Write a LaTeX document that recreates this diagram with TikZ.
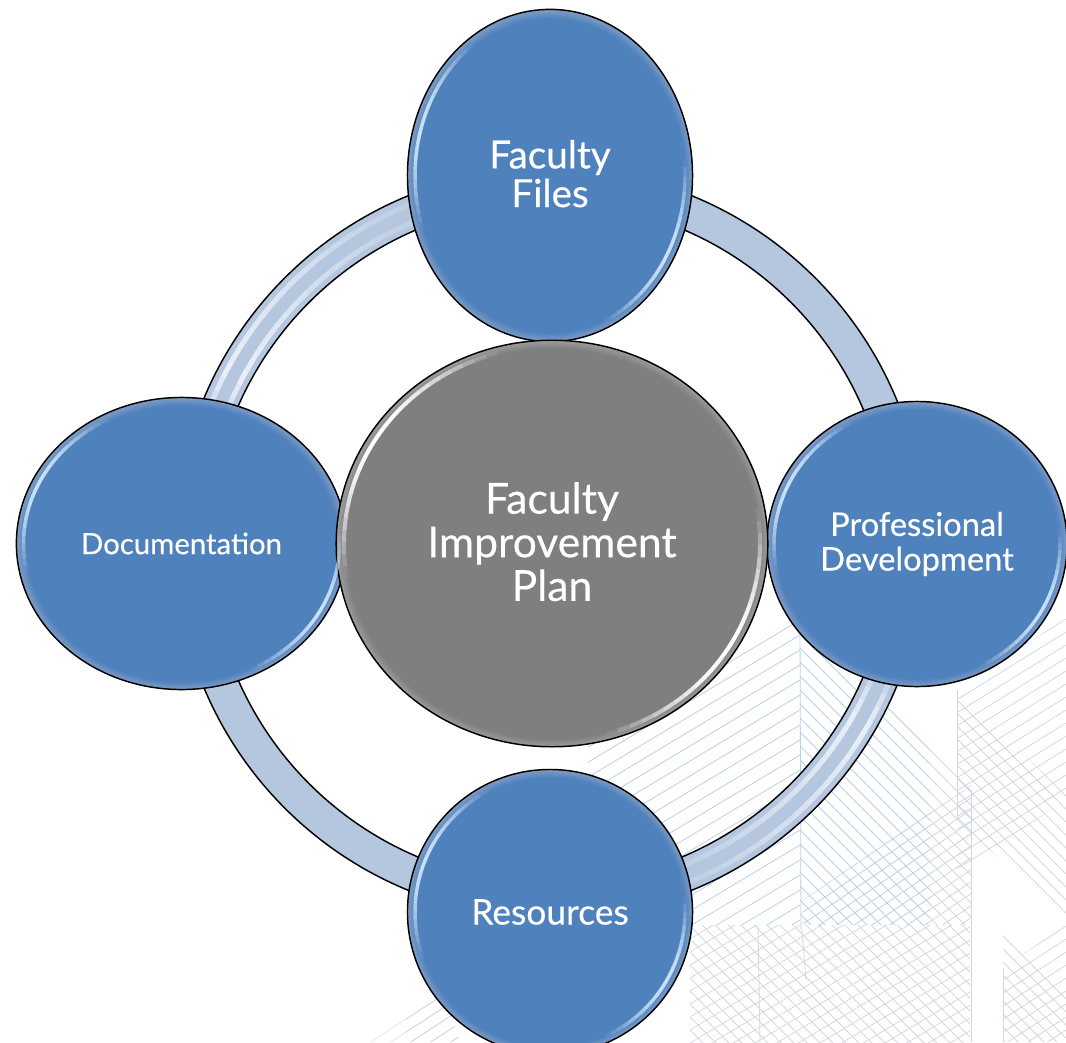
\documentclass[tikz,border=0pt]{standalone}
\usepackage{fontspec}
\setmainfont{Lato}[FakeBold=0.35]
\usetikzlibrary{shapes.geometric}
\definecolor{orbblue}{HTML}{4F81BD}
\definecolor{orbrim}{HTML}{7F9CC4}
\definecolor{orbgrey}{HTML}{7F7F7F}
\definecolor{orbgreyrim}{HTML}{9C9C9C}
\definecolor{ringfill}{HTML}{B5C6DF}
\definecolor{ringlight}{HTML}{F0F5FC}
\definecolor{bluelight}{HTML}{C8E2F8}
\definecolor{hatchblue}{HTML}{BAD0EA}
\definecolor{hatchgrey}{HTML}{D2D7E0}
\definecolor{hatchpale}{HTML}{E4E8EF}
\pgfdeclareradialshading{orbshade}{\pgfpoint{0bp}{0bp}}{color(0bp)=(orbblue); color(23.6bp)=(orbblue); color(25bp)=(orbrim); color(50bp)=(orbrim)}
\pgfdeclareradialshading{greyshade}{\pgfpoint{0bp}{0bp}}{color(0bp)=(orbgrey); color(24bp)=(orbgrey); color(25bp)=(orbgreyrim); color(50bp)=(orbgreyrim)}
\tikzset{
  orb/.style={ellipse,draw=black,line width=1.1pt,shading=orbshade,inner sep=0pt,text=white,align=center},
  hub/.style={ellipse,draw=black,line width=1.1pt,shading=greyshade,inner sep=0pt,text=white,align=center},
  hatchline/.style={line width=0.6pt}
}
% polygon, colour, slope, first, second, last
\newcommand\hatchzone[6]{%
  \begin{scope}
    \clip #1;
    \foreach \c in {#4,#5,...,#6}{\draw[hatchline,#2] (0,\c) -- (1066,{\c+(#3)*1066});}
  \end{scope}}
% cx cy rx ry from to width colour: fades in and out along the arc
\newcommand\rimarc[8]{%
  \foreach \k in {0,...,23}{%
    \pgfmathsetmacro\aa{#5+(#6-#5)*\k/24}%
    \pgfmathsetmacro\ab{#5+(#6-#5)*(\k+1.02)/24}%
    \pgfmathsetmacro\op{sin(180*(\k+.5)/24)}%
    \draw[line width=#7,draw=#8,opacity=\op] plot[domain=\aa:\ab,samples=3] ({#1+#3*cos(\x)},{#2-#4*sin(\x)});
  }}
% ring stripe: strongest at "from", gone at "to"
\newcommand\ringarc[6]{%
  \foreach \k in {0,...,23}{%
    \pgfmathsetmacro\aa{#2+(#3-#2)*\k/24}%
    \pgfmathsetmacro\ab{#2+(#3-#2)*(\k+1.02)/24}%
    \pgfmathsetmacro\op{(1-\k/24)*min(1,(\k+2)/5)}%
    \draw[line width=#4,draw=#5,opacity=\op] plot[domain=\aa:\ab,samples=3] ({#6+#1*cos(\x)},{543-#1*sin(\x)});
  }}
\begin{document}
\begin{tikzpicture}[x=0.75pt,y=-0.75pt]
\useasboundingbox (0,0) rectangle (1066,1042);
% --- background hatching
\hatchzone{(588,745) -- (800,618) -- (800,925) -- (588,925) -- cycle}{hatchblue}{-0.6}{1100}{1115}{1400}
\hatchzone{(800,625) -- (930,745) -- (930,925) -- (800,925) -- cycle}{hatchblue}{1}{-180}{-166}{130}
\hatchzone{(803,900) -- (930,813) -- (930,925) -- (803,925) -- cycle}{hatchblue}{-0.68}{1446}{1458}{1560}
\hatchzone{(690,925) -- (970,925) -- (970,1042) -- (690,1042) -- cycle}{hatchgrey}{-0.6}{1340}{1353}{1630}
\hatchzone{(690,925) -- (970,925) -- (970,1042) -- (690,1042) -- cycle}{hatchgrey}{1}{-50}{-37}{360}
\hatchzone{(930,745) -- (972,790) -- (972,925) -- (930,925) -- cycle}{hatchgrey}{1}{-180}{-166}{130}
\hatchzone{(930,813) -- (972,785) -- (972,925) -- (930,925) -- cycle}{hatchgrey}{-0.68}{1446}{1458}{1660}
\hatchzone{(957,690) -- (1066,618) -- (1066,800) -- (957,872) -- cycle}{hatchgrey}{-0.62}{1280}{1293}{1470}
\hatchzone{(957,690) -- (1066,795) -- (1066,918) -- (973,835) -- (957,820) -- cycle}{hatchgrey}{1}{-270}{-257}{-140}
\hatchzone{(1003,968) -- (1066,925) -- (1066,1042) -- (1003,1042) -- cycle}{hatchgrey}{-0.65}{1580}{1593}{1740}
\hatchzone{(1003,930) -- (1066,990) -- (1066,1042) -- (1003,1042) -- cycle}{hatchgrey}{1}{-80}{-67}{40}
\hatchzone{(355,1042) -- (440,985) -- (460,1042) -- cycle}{hatchpale}{-0.65}{1270}{1283}{1340}
\hatchzone{(405,1010) -- (440,985) -- (460,1042) -- (405,1042) -- cycle}{hatchgrey}{-0.65}{1270}{1283}{1340}
\draw[hatchline,hatchblue] (800,625) -- (801,930);
\draw[hatchline,hatchgrey] (758,925) -- (760,1042) (802,930) -- (806,980);
\draw[hatchline,hatchgrey] (957,690) -- (957,820) (971,790) -- (971,1042) (1003,968) -- (1003,1042);
% --- ring
\fill[ringfill,draw=black,line width=1.1pt,even odd rule] (550,543) circle[radius=375] (550,543) circle[radius=340.5];
\ringarc{349}{160}{104}{3.8pt}{ringlight}{550}
\ringarc{366.5}{160}{104}{3.8pt}{ringlight}{550}
\ringarc{349}{-22}{-78}{3.8pt}{ringlight}{550}
\ringarc{366.5}{-22}{-78}{3.8pt}{ringlight}{550}
% --- discs
\node[orb,minimum width=284bp*0.75,minimum height=331bp*0.75,font=\fontsize{29}{29}\selectfont] (files) at (550,175.5) {Faculty\\Files\rule[-3pt]{0pt}{3pt}};
\node[orb,minimum width=329bp*0.75,minimum height=291bp*0.75,font=\fontsize{22}{22}\selectfont] (docs) at (181.5,543.5) {Documentation};
\node[orb,minimum width=299bp*0.75,minimum height=284bp*0.75,font=\fontsize{24.5}{26}\selectfont] (prof) at (917,544) {Professional\\Development};
\node[orb,minimum width=284bp*0.75,minimum height=284bp*0.75,font=\fontsize{26.5}{27}\selectfont] (res) at (550,912) {Resources};
\node[hub,minimum width=430bp*0.75,minimum height=405bp*0.75,font=\fontsize{32}{32.7}\selectfont] (plan) at (552,543.5) {Faculty\\Improvement\\Plan\rule[-3pt]{0pt}{3pt}};
% --- rim highlights
\rimarc{550}{175.5}{135}{159}{125}{200}{2.6pt}{bluelight}
\rimarc{550}{175.5}{135}{159}{-66}{6}{2.6pt}{bluelight}
\rimarc{181.5}{543.5}{158}{140}{118}{192}{2.6pt}{bluelight}
\rimarc{181.5}{543.5}{158}{140}{-64}{6}{2.6pt}{bluelight}
\rimarc{917}{544}{143}{136}{118}{192}{2.6pt}{bluelight}
\rimarc{917}{544}{143}{136}{-64}{6}{2.6pt}{bluelight}
\rimarc{550}{912}{135}{136}{118}{200}{2.6pt}{bluelight}
\rimarc{550}{912}{135}{136}{-66}{6}{2.6pt}{bluelight}
\rimarc{552}{543.5}{208}{197}{105}{190}{3pt}{white}
\rimarc{552}{543.5}{208}{197}{-75}{10}{3pt}{white}
\end{tikzpicture}
\end{document}
